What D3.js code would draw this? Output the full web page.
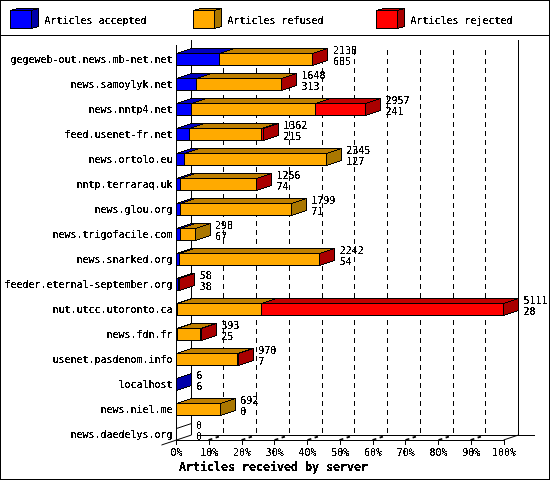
<!DOCTYPE html>
<html><head><meta charset="utf-8">
<script src="https://d3js.org/d3.v7.min.js"></script>
<style>html,body{margin:0;padding:0;background:#fff}svg{display:block}
text{font-family:"DejaVu Sans Mono","Liberation Mono",monospace;font-size:10.5px;fill:#000}</style>
</head><body><div id="c"></div>
<script>
const hosts=["gegeweb-out.news.mb-net.net","news.samoylyk.net","news.nntp4.net","feed.usenet-fr.net","news.ortolo.eu","nntp.terraraq.uk","news.glou.org","news.trigofacile.com","news.snarked.org","feeder.eternal-september.org","nut.utcc.utoronto.ca","news.fdn.fr","usenet.pasdenom.info","localhost","news.niel.me","news.daedelys.org"];
const accepted=[685,313,241,215,127,74,71,67,54,38,28,25,7,6,0,0];
const refused=[1450,1330,1931,1127,2218,1177,1728,231,2183,0,1308,363,960,0,692,0];
const rejected=[3,5,785,20,0,5,0,0,5,20,3775,5,3,0,0,0];
const seriesNames=["Articles accepted","Articles refused","Articles rejected"];
const pctTicks=[0,10,20,30,40,50,60,70,80,90,100];
const axisTitle="Articles received by server";

const W=550,H=480;
const front=["#0000ff","#ffaa00","#ff0000"],top_=["#0000c0","#c08000","#c00000"],side=["#0000aa","#aa7700","#aa0000"];
const dx=15,dy=5,barH=12;
const series=[accepted,refused,rejected];
const totals=hosts.map((_,i)=>accepted[i]+refused[i]+rejected[i]);
const x=d3.scaleLinear().domain([0,d3.max(totals)]).range([176,503.5]);
const pct=d3.scaleLinear().domain([0,100]).range(x.range());
const y=d3.scalePoint().domain(hosts).range([59,434]);
const snap=v=>Math.floor(v)+.5;

const svg=d3.select("#c").append("svg").attr("width",W).attr("height",H);
const f=svg.append("defs").append("filter").attr("id","px").attr("x","-10%").attr("y","-30%").attr("width","120%").attr("height","160%");
f.append("feComponentTransfer").append("feFuncA").attr("type","discrete").attr("tableValues","0 1 1");

const g=svg.append("g").attr("shape-rendering","crispEdges");
g.append("rect").attr("x",.5).attr("y",.5).attr("width",W-1).attr("height",H-1).attr("fill","#fff").attr("stroke","#000");
g.append("line").attr("x1",0).attr("x2",W).attr("y1",35.5).attr("y2",35.5).attr("stroke","#000");

// all text is real text, fitted to the reference's fixed 6px cell
const label=(sel,adv)=>{sel.each(function(){const s=d3.select(this),n=s.text().length;
  s.attr("textLength",n*adv).attr("lengthAdjust","spacingAndGlyphs").attr("filter","url(#px)");});return sel;};

// legend
const legX=[10,193,376];
seriesNames.forEach((n,i)=>{
  const l=g.append("g").attr("transform",`translate(${legX[i]},10)`);
  l.append("path").attr("d","M0.5,0.5L7.5,-1.5H28.5L21.5,0.5Z").attr("fill",top_[i]).attr("stroke","#000");
  l.append("path").attr("d","M21.5,0.5L28.5,-1.5V16.5L21.5,18.5Z").attr("fill",side[i]).attr("stroke","#000");
  l.append("rect").attr("x",.5).attr("y",.5).attr("width",21).attr("height",18).attr("fill",front[i]).attr("stroke","#000");
  label(svg.append("text").attr("x",legX[i]+34.5).attr("y",24).text(n),6);
});

// back wall, floor, grid
const line=(p,a,b,c,d,dash)=>{const s=p.append("line").attr("x1",a).attr("y1",b).attr("x2",c).attr("y2",d).attr("stroke","#000");if(dash)s.attr("stroke-dasharray",dash);return s;};
const yTop=40,yFront=440,yBack=yFront-dy;
pctTicks.slice(1,-1).forEach(t=>{
  const px=snap(pct(t));
  line(g,px+dx,50,px+dx,yBack,"5,4");
  line(g,px,yFront,px+dx,yBack,"4,3.5,3.5,20").attr("shape-rendering","auto").attr("stroke-width",1.8);
});
const x0=snap(pct(0)),x1=snap(pct(100));
line(g,x0+dx,yTop,x0+dx,yBack);
line(g,x1+dx,yTop,x1+dx,yBack);
line(g,201,yBack+.5,535,yBack+.5);
line(g,x0-15,yFront+5,x0,yFront).attr("shape-rendering","auto");
line(g,x0,yFront,x0+dx,yBack).attr("shape-rendering","auto");
line(g,x1,yFront,x1+dx,yBack).attr("shape-rendering","auto");
line(g,x0,yTop+5,x0,yFront+5);
line(g,x0,yFront+.5,x1,yFront+.5);

// bars
hosts.forEach((h,i)=>{
  const yt=y(h)-6+.5,yb=yt+barH;
  const b=g.append("g");
  let cum=0,last=-1;
  series.forEach((s,k)=>{
    const v=s[i];
    const a=snap(x(cum)),e=snap(x(cum+v));
    if(v>0){
      last=k;
      b.append("path").attr("d",`M${a},${yt}L${a+dx},${yt-dy}H${e+dx}L${e},${yt}Z`).attr("fill",top_[k]).attr("stroke","#000");
      b.append("rect").attr("x",a).attr("y",yt).attr("width",e-a).attr("height",barH).attr("fill",front[k]).attr("stroke","#000");
    }
    cum+=v;
  });
  const e=snap(x(cum));
  b.append("path").attr("d",`M${e},${yt}L${e+dx},${yt-dy}V${yb-dy}L${e},${yb}Z`)
    .attr("fill",last>=0?side[last]:"none").attr("stroke",last>=0?"#000":"none");
  if(last<0){line(b,e,yt,e+dx,yt-dy).attr("shape-rendering","auto");}
  label(svg.append("text").attr("x",x(totals[i])+20).attr("y",y(h)-5).text(totals[i]),6);
  label(svg.append("text").attr("x",x(totals[i])+20).attr("y",y(h)+6).text(accepted[i]),6);
});

// axes
const ya=d3.axisLeft(y).tickSize(0).tickPadding(4);
const yg=svg.append("g").attr("transform",`translate(${x0},0)`).call(ya);
yg.select(".domain").remove();
label(yg.selectAll("text").attr("dy","3.5").attr("y",0),6);
const xa=d3.axisBottom(pct).tickValues(pctTicks).tickFormat(d=>d+"%").tickSize(5).tickPadding(4);
const xg=svg.append("g").attr("transform",`translate(0,${yFront})`).attr("shape-rendering","crispEdges").call(xa);
xg.select(".domain").remove();
label(xg.selectAll("text"),6);
label(svg.append("text").attr("x",273.5).attr("y",471).attr("text-anchor","middle")
  .style("font-weight","bold").style("font-size","12px").text(axisTitle),7);
</script></body></html>
